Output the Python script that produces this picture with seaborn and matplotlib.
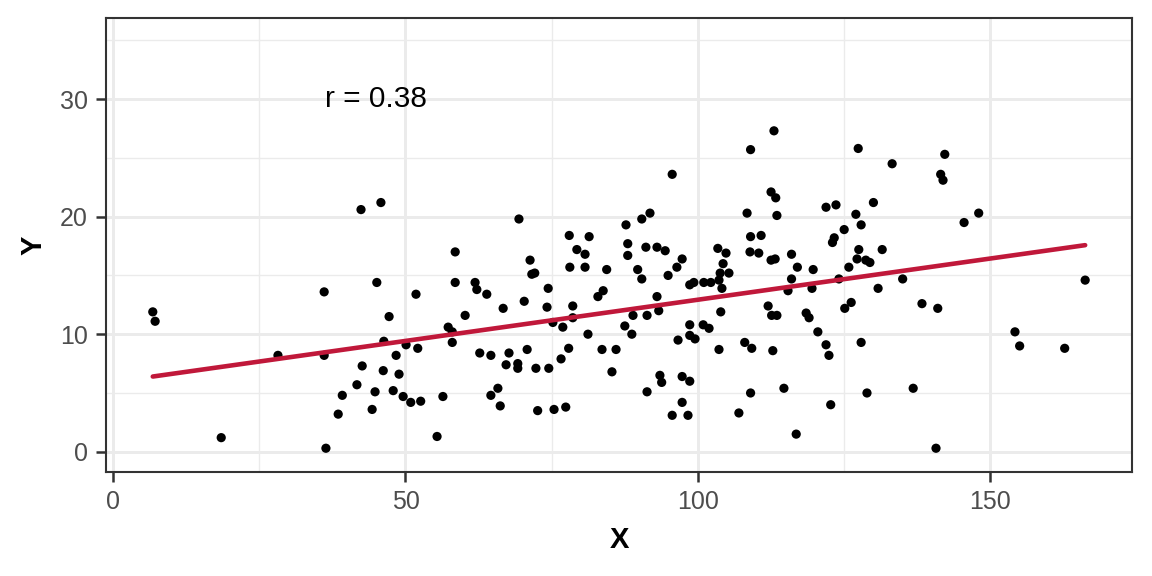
import numpy as np
import pandas as pd
import matplotlib
matplotlib.use("Agg")
import matplotlib.pyplot as plt
import seaborn as sns

# values
x_vals = [6.8, 7.2, 18.5, 28.2, 36.1, 36.1, 36.4, 38.5, 39.2, 41.7, 42.4, 42.6, 44.3, 44.8, 45.1,
          45.8, 46.2, 46.3, 47.2, 47.9, 48.4, 48.9, 49.6, 50.1, 50.9, 51.8, 52.1, 52.6, 55.4, 56.4,
          57.3, 58.0, 58.0, 58.5, 58.5, 60.2, 61.9, 62.2, 62.7, 63.9, 64.6, 64.6, 65.8, 66.2, 66.7,
          67.2, 67.7, 69.2, 69.2, 69.4, 70.3, 70.8, 71.3, 71.6, 72.1, 72.3, 72.6, 74.2, 74.4, 74.5,
          75.2, 75.4, 76.6, 76.9, 77.4, 77.9, 78.0, 78.1, 78.6, 78.6, 79.3, 80.7, 80.7, 81.2, 81.4,
          82.9, 83.6, 83.8, 84.4, 85.3, 86.0, 87.5, 87.7, 88.0, 88.0, 88.7, 88.9, 89.7, 90.4, 90.4,
          91.1, 91.3, 91.3, 91.8, 93.0, 93.0, 93.3, 93.5, 93.8, 94.4, 94.9, 95.6, 95.6, 96.4, 96.6,
          97.3, 97.3, 97.3, 98.3, 98.6, 98.6, 98.6, 98.6, 99.3, 99.5, 100.9, 101.0, 101.9, 102.2, 103.4,
          103.6, 103.6, 103.8, 103.9, 104.1, 104.3, 104.8, 105.3, 107.0, 108.0, 108.4, 108.9, 109.0, 109.0, 109.0,
          109.2, 110.4, 110.8, 112.0, 112.5, 112.5, 112.6, 112.8, 113.0, 113.2, 113.3, 113.5, 113.5, 114.7, 115.4,
          116.0, 116.0, 116.8, 117.0, 118.5, 119.0, 119.5, 119.7, 120.5, 121.9, 121.9, 122.4, 122.7, 123.0, 123.3,
          123.6, 124.1, 125.0, 125.1, 125.8, 126.2, 127.0, 127.2, 127.4, 127.5, 127.9, 127.9, 128.7, 128.9, 129.4,
          130.0, 130.8, 131.5, 133.2, 135.0, 136.8, 138.3, 140.7, 141.0, 141.5, 141.9, 142.2, 145.5, 148.0, 154.2,
          155.0, 162.7, 166.2]
y_vals = [11.9, 11.1, 1.2, 8.2, 13.6, 8.2, 0.3, 3.2, 4.8, 5.7, 20.6, 7.3, 3.6, 5.1, 14.4,
          21.2, 6.9, 9.4, 11.5, 5.2, 8.2, 6.6, 4.7, 9.1, 4.2, 13.4, 8.8, 4.3, 1.3, 4.7,
          10.6, 10.2, 9.3, 17.0, 14.4, 11.6, 14.4, 13.8, 8.4, 13.4, 8.2, 4.8, 5.4, 3.9, 12.2,
          7.4, 8.4, 7.5, 7.1, 19.8, 12.8, 8.7, 16.3, 15.1, 15.2, 7.1, 3.5, 12.3, 13.9, 7.1,
          11.0, 3.6, 7.9, 10.6, 3.8, 8.8, 18.4, 15.7, 12.4, 11.4, 17.2, 16.8, 15.7, 10.0, 18.3,
          13.2, 8.7, 13.7, 15.5, 6.8, 8.7, 10.7, 19.3, 17.7, 16.7, 10.0, 11.6, 15.5, 19.8, 14.7,
          17.4, 11.6, 5.1, 20.3, 17.4, 13.2, 12.0, 6.5, 5.9, 17.1, 15.0, 23.6, 3.1, 15.7, 9.5,
          16.4, 6.4, 4.2, 3.1, 14.2, 10.8, 9.9, 6.0, 14.4, 9.6, 10.8, 14.4, 10.5, 14.4, 17.3,
          14.6, 8.7, 15.2, 11.9, 13.9, 16.0, 16.9, 15.2, 3.3, 9.3, 20.3, 17.0, 25.7, 18.3, 5.0,
          8.8, 16.9, 18.4, 12.4, 22.1, 16.3, 11.6, 8.6, 27.3, 16.4, 21.6, 20.1, 11.6, 5.4, 13.7,
          16.8, 14.7, 1.5, 15.7, 11.8, 11.4, 13.9, 15.5, 10.2, 20.8, 9.1, 8.2, 4.0, 17.8, 18.2,
          21.0, 14.7, 18.9, 12.2, 15.7, 12.7, 20.2, 16.4, 25.8, 17.2, 19.3, 9.3, 16.3, 5.0, 16.1,
          21.2, 13.9, 17.2, 24.5, 14.7, 5.4, 12.6, 0.3, 12.2, 23.6, 23.1, 25.3, 19.5, 20.3, 10.2,
          9.0, 8.8, 14.6]

df = pd.DataFrame({'X': x_vals, 'Y': y_vals})
r_text = 'r = 0.38'

sns.set_theme(style='whitegrid')
plt.rcParams['font.family'] = ['Liberation Sans', 'DejaVu Sans']

fig = plt.figure(figsize=(11.52, 5.76), dpi=100)
ax = fig.add_axes([0.092, 0.181, 0.8906, 0.7878])

sns.scatterplot(data=df, x='X', y='Y', color='black', s=44, edgecolor='none', ax=ax, zorder=3)
sns.regplot(data=df, x='X', y='Y', scatter=False, ci=None, color='#c0183a',
            line_kws={'lw': 3.3, 'zorder': 4}, ax=ax)

ax.text(45, 30, r_text, fontsize=21.5, ha='center', va='center', color='black')

# theme_bw look
ax.set_xlim(-1.2, 174.2)
ax.set_ylim(-1.7, 36.9)
ax.set_xticks([0, 50, 100, 150])
ax.set_yticks([0, 10, 20, 30])
ax.set_xticks([25, 75, 125], minor=True)
ax.set_yticks([5, 15, 25, 35], minor=True)
ax.set_facecolor('white')
ax.grid(which='major', color='#EBEBEB', lw=2.1)
ax.grid(which='minor', color='#EBEBEB', lw=1.0)
ax.set_axisbelow(True)
for sp in ax.spines.values():
    sp.set_color('#333333')
    sp.set_linewidth(1.5)
ax.tick_params(axis='both', which='major', length=7, width=1.8, color='#333333',
               labelsize=18, labelcolor='#4D4D4D', direction='out', pad=6)
ax.tick_params(axis='both', which='minor', length=0)
ax.xaxis.set_ticks_position('bottom')
ax.yaxis.set_ticks_position('left')

ax.set_xlabel('X', fontsize=21, fontweight='bold', color='black', labelpad=9)
ax.set_ylabel('Y', fontsize=21, fontweight='bold', color='black', labelpad=9)

fig.savefig('out.png', dpi=100)
